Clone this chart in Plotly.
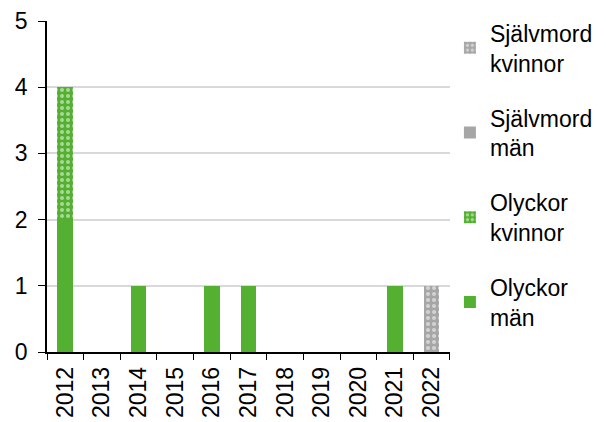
import plotly.graph_objects as go

years = ["2012", "2013", "2014", "2015", "2016", "2017", "2018", "2019", "2020", "2021", "2022"]
olyckor_man = [2, 0, 1, 0, 1, 1, 0, 0, 0, 1, 0]
olyckor_kvinnor = [2, 0, 0, 0, 0, 0, 0, 0, 0, 0, 0]
sjalvmord_man = [0, 0, 0, 0, 0, 0, 0, 0, 0, 0, 0]
sjalvmord_kvinnor = [0, 0, 0, 0, 0, 0, 0, 0, 0, 0, 1]

green = "#54B030"
gray = "#A6A6A6"

fig = go.Figure()
fig.add_trace(go.Bar(x=years, y=olyckor_man, name="Olyckor<br>män", marker_color=green,
                     legendgroup="a", legendrank=4, marker_line_width=0))
fig.add_trace(go.Bar(x=years, y=olyckor_kvinnor, name="Olyckor<br>kvinnor", legendgroup="b", legendrank=3,
                     marker=dict(color=green, line_width=0,
                                 pattern=dict(shape=".", fgcolor="white", bgcolor=green, size=6, solidity=0.35))))
fig.add_trace(go.Bar(x=years, y=sjalvmord_man, name="Självmord<br>män", marker_color=gray,
                     legendgroup="c", legendrank=2, marker_line_width=0))
fig.add_trace(go.Bar(x=years, y=sjalvmord_kvinnor, name="Självmord<br>kvinnor", legendgroup="d", legendrank=1,
                     marker=dict(color=gray, line_width=0,
                                 pattern=dict(shape=".", fgcolor="white", bgcolor=gray, size=6, solidity=0.35))))

fig.update_layout(
    barmode="stack",
    bargap=0.57,
    width=598, height=414,
    margin=dict(l=39, r=141, t=13, b=70),
    paper_bgcolor="white", plot_bgcolor="white",
    font=dict(family="Liberation Sans, Arial, sans-serif", size=23, color="black"),
    legend=dict(x=0.739, y=0.992, xref="container", yref="container",
                xanchor="left", yanchor="top", traceorder="grouped",
                tracegroupgap=22, font=dict(size=23), itemwidth=30, maxheight=500),
    showlegend=True,
)
fig.update_xaxes(type="category", tickangle=-90, showline=True, linecolor="black", linewidth=1.5,
                 ticks="outside", tickson="boundaries", ticklen=6, tickcolor="black",
                 showgrid=False, tickfont=dict(size=23), ticklabelstandoff=4, automargin=False)
fig.update_yaxes(range=[0, 5], dtick=1, showline=True, linecolor="black", linewidth=1.5,
                 ticks="outside", ticklen=7, tickcolor="black", showgrid=True,
                 gridcolor="#D9D9D9", gridwidth=1.5, zeroline=False, tickfont=dict(size=23),
                 ticklabelstandoff=6, automargin=False)

fig.write_html("out.html")
